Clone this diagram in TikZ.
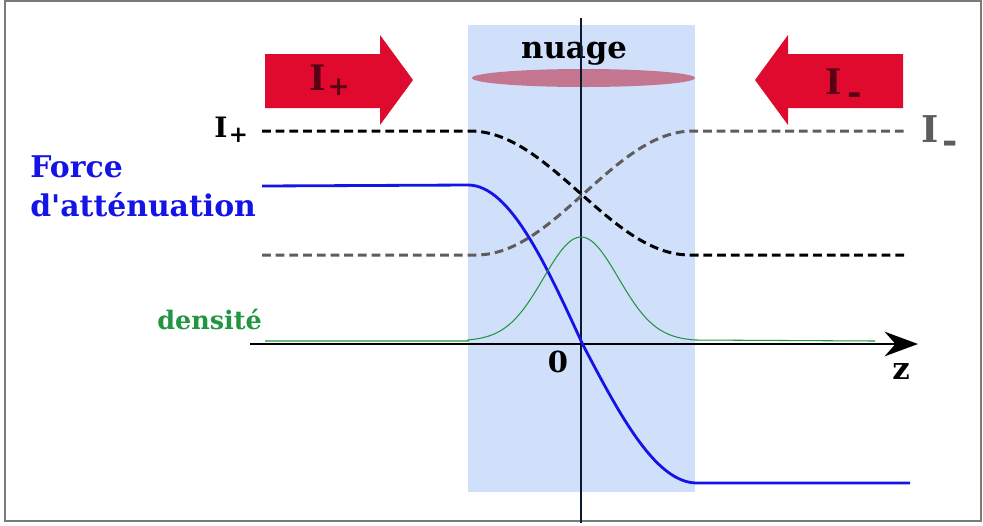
\documentclass[tikz,border=0pt]{standalone}
\usepackage{fontspec}
\setmainfont{DejaVu Serif}
\usepackage{xcolor}
\usepackage{tikz}
\usetikzlibrary{arrows.meta,positioning}
\definecolor{bande}{HTML}{D1E0FA}
\definecolor{fleche}{HTML}{E00A2E}
\definecolor{flechetxt}{HTML}{5A0016}
\definecolor{nuagecol}{HTML}{C47590}
\definecolor{grisI}{HTML}{5E5C5C}
\definecolor{vert}{HTML}{21953F}
\definecolor{bleuF}{HTML}{1414E6}
\definecolor{axecol}{HTML}{0C1A30}
\definecolor{cadre}{HTML}{7A7A7A}

\begin{document}
\begin{tikzpicture}[x=0.02cm,y=-0.02cm,font=\bfseries,
  pointill/.style={line width=1.7pt,dash pattern=on 5pt off 2.8pt},
  etiq/.style={inner sep=0pt,anchor=base west}]
\useasboundingbox (0,0) rectangle (983,525);
\draw[cadre,line width=1.2pt] (5,1) rectangle (981,521);
% nuage
\fill[bande] (468,25) rectangle (695,492);
\fill[nuagecol] (583.5,78) ellipse (111.5 and 9);
\node[inner sep=0pt,anchor=base,font=\bfseries\fontsize{17.5}{20}\selectfont] (nuage) at (574,58) {nuage};
% fleches
\fill[fleche] (265,54) -- (380,54) -- (380,35) -- (413,80) -- (380,125) -- (380,108) -- (265,108) -- cycle;
\fill[fleche] (903,54) -- (788,54) -- (788,35) -- (755,80) -- (788,125) -- (788,108) -- (903,108) -- cycle;
\node[etiq,flechetxt,font=\bfseries\fontsize{20}{24}\selectfont] (Ip) at (309,90) {I\kern0.05em\raisebox{-0.3ex}{\fontsize{15}{18}\selectfont +}};
\node[etiq,flechetxt,font=\bfseries\fontsize{20}{24}\selectfont] (Im) at (825,94) {I\kern0.15em\raisebox{-0.55ex}{-}};
% axes
\draw[axecol,line width=1.1pt] (581,18) -- (581,523);
\draw[line width=1.2pt,-{Stealth[length=19pt,width=14pt]}] (250,344) -- (918,344);
\node[inner sep=0pt,anchor=base,font=\bfseries\fontsize{16.5}{19}\selectfont] (zero) at (558,372) {0};
\node[inner sep=0pt,anchor=base,font=\bfseries\fontsize{17.5}{20}\selectfont] (z) at (901,379) {z};
% intensites
\draw[pointill] (262,131) -- (470,131) -- plot[domain=0:180,samples=60] ({470+\x/180*220},{193-62*cos(\x)}) -- (905,255);
\draw[pointill,grisI] (262,255) -- (476,255) -- plot[domain=0:180,samples=60] ({476+\x/180*217},{193+62*cos(\x)}) -- (905,131);
\node[etiq,font=\bfseries\fontsize{16}{19}\selectfont] (Iplus) at (214,137) {I\kern0.05em\raisebox{-0.35ex}{\fontsize{13}{15}\selectfont +}};
\node[etiq,grisI,font=\bfseries\fontsize{21}{24}\selectfont] (Imoins) at (921,142) {I\kern0.1em\raisebox{-0.6ex}{-}};
% force
\draw[bleuF,line width=1.6pt] (262,186) -- (468,185) -- plot[domain=0:180,samples=60] ({468+\x/180*229},{\x<90 ? 344-159*cos(\x) : 344-139*cos(\x)}) -- (910,483);
\node[etiq,bleuF,font=\bfseries\fontsize{17}{21}\selectfont] (force) at (30,177) {Force};
\node[etiq,bleuF,font=\bfseries\fontsize{17}{21}\selectfont] (att) at (30,216) {d\textquotesingle atténuation};
% densite
\draw[vert,line width=0.6pt] (265,341) -- (468,341) -- plot[domain=468:695,samples=80] (\x,{341-104*exp(-0.5*((\x-581)/37.4)^2)}) -- (875,341);
\node[etiq,vert,font=\bfseries\fontsize{14.5}{17}\selectfont] (dens) at (157,329) {densité};
\end{tikzpicture}
\end{document}
